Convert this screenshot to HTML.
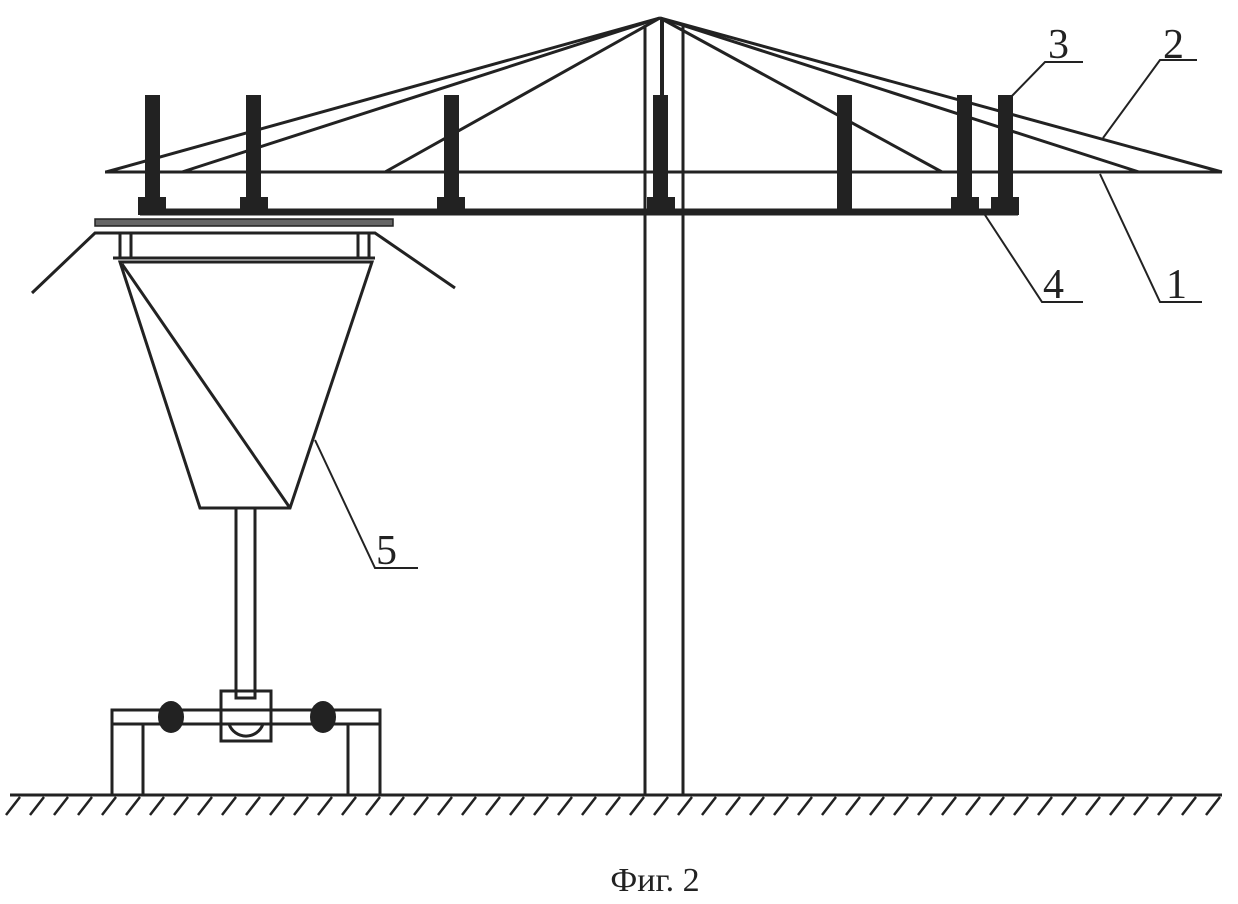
<!DOCTYPE html>
<html><head><meta charset="utf-8"><style>body{margin:0;background:#fff}svg{display:block}</style></head><body>
<svg width="1238" height="904" viewBox="0 0 1238 904" xmlns="http://www.w3.org/2000/svg">
<g stroke="#222" fill="none" stroke-linecap="butt">
<line x1="645" y1="25" x2="645" y2="795" stroke-width="3"/>
<line x1="683" y1="25" x2="683" y2="795" stroke-width="3"/>
<line x1="662" y1="20" x2="662" y2="100" stroke-width="4"/>
<g stroke-width="3">
<line x1="660" y1="18" x2="106" y2="172"/>
<line x1="660" y1="18" x2="182" y2="172"/>
<line x1="660" y1="18" x2="385" y2="172"/>
<line x1="660" y1="18" x2="942" y2="172"/>
<line x1="660" y1="18" x2="1139" y2="172"/>
<line x1="660" y1="18" x2="1222" y2="172"/>
</g>
<line x1="105" y1="172" x2="1222" y2="172" stroke-width="3"/>
<line x1="140" y1="212" x2="1018" y2="212" stroke-width="7"/>
</g>
<g fill="#222">
<rect x="145" y="95" width="15" height="110"/><rect x="138" y="197" width="28" height="18"/>
<rect x="246" y="95" width="15" height="110"/><rect x="240" y="197" width="28" height="18"/>
<rect x="444" y="95" width="15" height="110"/><rect x="437" y="197" width="28" height="18"/>
<rect x="653" y="95" width="15" height="110"/><rect x="647" y="197" width="28" height="18"/>
<rect x="837" y="95" width="15" height="118"/>
<rect x="957" y="95" width="15" height="110"/><rect x="951" y="197" width="28" height="18"/>
<rect x="998" y="95" width="15" height="110"/><rect x="991" y="197" width="28" height="18"/>
</g>
<rect x="95" y="219" width="298" height="7" fill="#666" stroke="#222" stroke-width="1.5"/>
<g stroke="#222" fill="none" stroke-width="3">
<polyline points="32,293 95,233 375,233 455,288"/>
<line x1="113" y1="258" x2="375" y2="258"/>
<line x1="120" y1="233" x2="120" y2="258"/><line x1="131" y1="233" x2="131" y2="258"/>
<line x1="358" y1="233" x2="358" y2="258"/><line x1="369" y1="233" x2="369" y2="258"/>
<polygon points="120,262 372,262 290,508 200,508"/>
<line x1="122" y1="264" x2="290" y2="508"/>
<rect x="236" y="508" width="19" height="190"/>
<rect x="112" y="710" width="268" height="14"/>
<rect x="112" y="724" width="31" height="71"/>
<rect x="348" y="724" width="32" height="71"/>
<rect x="221" y="691" width="50" height="50"/>
<path d="M229 724 A18 18 0 0 0 263 724"/>
<line x1="10" y1="795" x2="1222" y2="795"/>
</g>
<g fill="#222"><ellipse cx="171" cy="717" rx="13" ry="16"/><ellipse cx="323" cy="717" rx="13" ry="16"/></g>
<g stroke="#222" stroke-width="2.5">
<path d="M20 797 l-14 18 M44 797 l-14 18 M68 797 l-14 18 M92 797 l-14 18 M116 797 l-14 18 M140 797 l-14 18 M164 797 l-14 18 M188 797 l-14 18 M212 797 l-14 18 M236 797 l-14 18 M260 797 l-14 18 M284 797 l-14 18 M308 797 l-14 18 M332 797 l-14 18 M356 797 l-14 18 M380 797 l-14 18 M404 797 l-14 18 M428 797 l-14 18 M452 797 l-14 18 M476 797 l-14 18 M500 797 l-14 18 M524 797 l-14 18 M548 797 l-14 18 M572 797 l-14 18 M596 797 l-14 18 M620 797 l-14 18 M644 797 l-14 18 M668 797 l-14 18 M692 797 l-14 18 M716 797 l-14 18 M740 797 l-14 18 M764 797 l-14 18 M788 797 l-14 18 M812 797 l-14 18 M836 797 l-14 18 M860 797 l-14 18 M884 797 l-14 18 M908 797 l-14 18 M932 797 l-14 18 M956 797 l-14 18 M980 797 l-14 18 M1004 797 l-14 18 M1028 797 l-14 18 M1052 797 l-14 18 M1076 797 l-14 18 M1100 797 l-14 18 M1124 797 l-14 18 M1148 797 l-14 18 M1172 797 l-14 18 M1196 797 l-14 18 M1220 797 l-14 18"/>
</g>
<g stroke="#222" stroke-width="2" fill="none">
<polyline points="1083,62 1045,62 1008,100"/>
<polyline points="1197,60 1160,60 1103,138"/>
<polyline points="1083,302 1042,302 985,215"/>
<polyline points="1202,302 1160,302 1100,174"/>
<polyline points="418,568 375,568 315,440"/>
</g>
<g font-family="Liberation Serif, serif" font-size="42" fill="#222">
<text x="1048" y="58">3</text>
<text x="1163" y="58">2</text>
<text x="1043" y="298">4</text>
<text x="1166" y="298">1</text>
<text x="376" y="564">5</text>
</g>
<text x="655" y="891" font-family="Liberation Serif, serif" font-size="34" fill="#222" text-anchor="middle">Фиг. 2</text>
</svg>
</body></html>
